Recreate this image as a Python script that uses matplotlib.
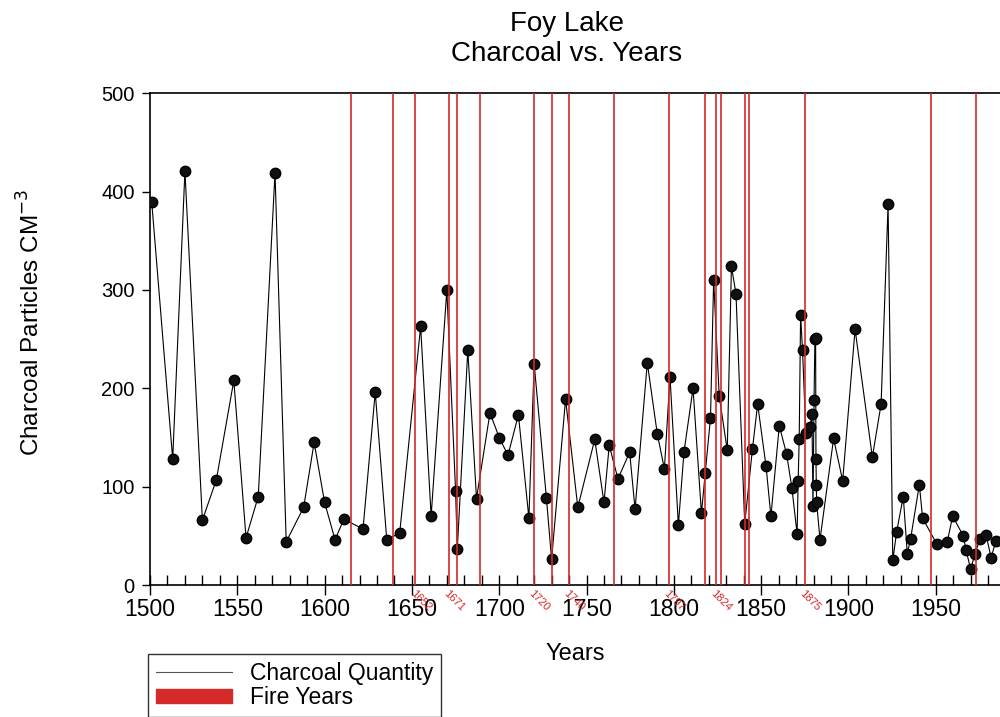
import matplotlib
matplotlib.use("Agg")
import matplotlib.pyplot as plt
from matplotlib.lines import Line2D
from matplotlib.patches import Patch
from matplotlib.ticker import MultipleLocator

plt.rcParams['font.family'] = ['Liberation Sans', 'DejaVu Sans']

years = [1501, 1513, 1520, 1530, 1538, 1548, 1555, 1562, 1571.6, 1578,
         1588, 1594, 1600, 1606, 1611, 1622, 1629, 1635.6, 1643, 1655,
         1661, 1670, 1675, 1676, 1682, 1687, 1694.7, 1700, 1705, 1711,
         1717, 1720, 1727, 1730, 1738, 1745, 1754.7, 1760, 1763, 1768,
         1774.7, 1777.8, 1784.8, 1790.5, 1794.6, 1797.8, 1802.6, 1805.8, 1811, 1815.8,
         1818, 1821, 1822.8, 1826, 1830.6, 1833, 1835.6, 1840.6, 1845, 1848,
         1852.8, 1855.6, 1860.4, 1864.6, 1867.6, 1870.6, 1871.2, 1871.8, 1872.6, 1873.7,
         1875.6, 1878, 1879.1, 1879.7, 1880.3, 1880.8, 1881.2, 1881.4, 1881.6, 1881.8,
         1883.7, 1891.5, 1896.7, 1903.8, 1913.7, 1918.7, 1922.7, 1925.4, 1927.6, 1931.4,
         1933.7, 1935.6, 1940.6, 1942.5, 1950.5, 1956.6, 1959.7, 1965.8, 1967.3, 1970,
         1972.5, 1975.4, 1978.8, 1981.7, 1984.5]
charcoal = [389, 128, 421, 66, 107, 208, 48, 90, 419, 44,
            79, 145, 84, 46, 67, 57, 196, 46, 53, 263,
            70, 300, 96, 37, 239, 88, 175, 150, 132, 173,
            68, 225, 89, 26, 189, 79, 148, 84, 142, 108,
            135, 77, 226, 154, 118, 212, 61, 135, 200, 73,
            114, 170, 310, 192, 137, 324, 296, 62, 138, 184,
            121, 70, 162, 133, 99, 52, 106, 148, 275, 239,
            155, 161, 174, 80, 188, 250, 251, 128, 102, 84,
            46, 149, 106, 260, 130, 184, 387, 25, 54, 90,
            32, 47, 102, 68, 42, 44, 70, 50, 36, 16,
            32, 47, 51, 28, 45]

fire_years = [1615, 1639, 1652, 1671, 1676, 1689, 1720, 1730, 1740, 1766,
              1797, 1818, 1824, 1827, 1841, 1843, 1875, 1947, 1973]
labeled_fire_years = [1652, 1671, 1720, 1740, 1797, 1824, 1875]

fire_color = '#d42a2a'

fig = plt.figure(figsize=(10, 7.17), dpi=100)
ax = fig.add_axes([0.150, 0.184, 0.850, 0.686])

ax.plot(years, charcoal, color='black', lw=0.8, marker='o', ms=7.5,
        markerfacecolor='#111111', markeredgecolor='black', zorder=3)
for fy in fire_years:
    ax.axvline(fy, color=fire_color, lw=1.2, zorder=4)

ax.set_xlim(1500, 1986.8)
ax.set_ylim(0, 500)
ax.xaxis.set_major_locator(MultipleLocator(50))
ax.xaxis.set_minor_locator(MultipleLocator(10))
ax.yaxis.set_major_locator(MultipleLocator(100))
ax.tick_params(axis='x', which='major', direction='inout', length=14, width=1,
               labelsize=16.5, pad=2)
ax.tick_params(axis='x', which='minor', direction='in', length=7, width=1)
ax.tick_params(axis='y', which='major', direction='out', length=6, width=1,
               labelsize=14.5, pad=5)
ax.spines['right'].set_visible(False)
for s in ['left', 'top', 'bottom']:
    ax.spines[s].set_linewidth(1.2)

for fy in labeled_fire_years:
    ax.annotate(str(fy), xy=(fy, 0), xycoords='data', xytext=(0, -2),
                textcoords='offset points', rotation=-45, rotation_mode='anchor',
                ha='left', va='top', fontsize=8, color=fire_color)

ax.set_xlabel('Years', fontsize=17, labelpad=16)
ax.set_ylabel('Charcoal Particles CM$^{-3}$', fontsize=17.5)
ax.yaxis.set_label_coords(-0.124, 0.535)
fig.text(0.567, 0.985, 'Foy Lake\nCharcoal vs. Years', ha='center', va='top',
         fontsize=20, linespacing=1.2)

handles = [Line2D([0], [0], color='#555555', lw=0.8),
           Patch(facecolor=fire_color, edgecolor=fire_color)]
leg = fig.legend(handles, ['Charcoal Quantity', 'Fire Years'],
                 loc='upper left', bbox_to_anchor=(0.148, 0.088),
                 fontsize=16.5, frameon=True, fancybox=False, edgecolor='black',
                 handlelength=3.3, handleheight=0.55, labelspacing=0.05,
                 borderpad=0.35, handletextpad=0.8, borderaxespad=0.0)
leg.get_frame().set_linewidth(1.0)

fig.savefig('out.png', dpi=100)
